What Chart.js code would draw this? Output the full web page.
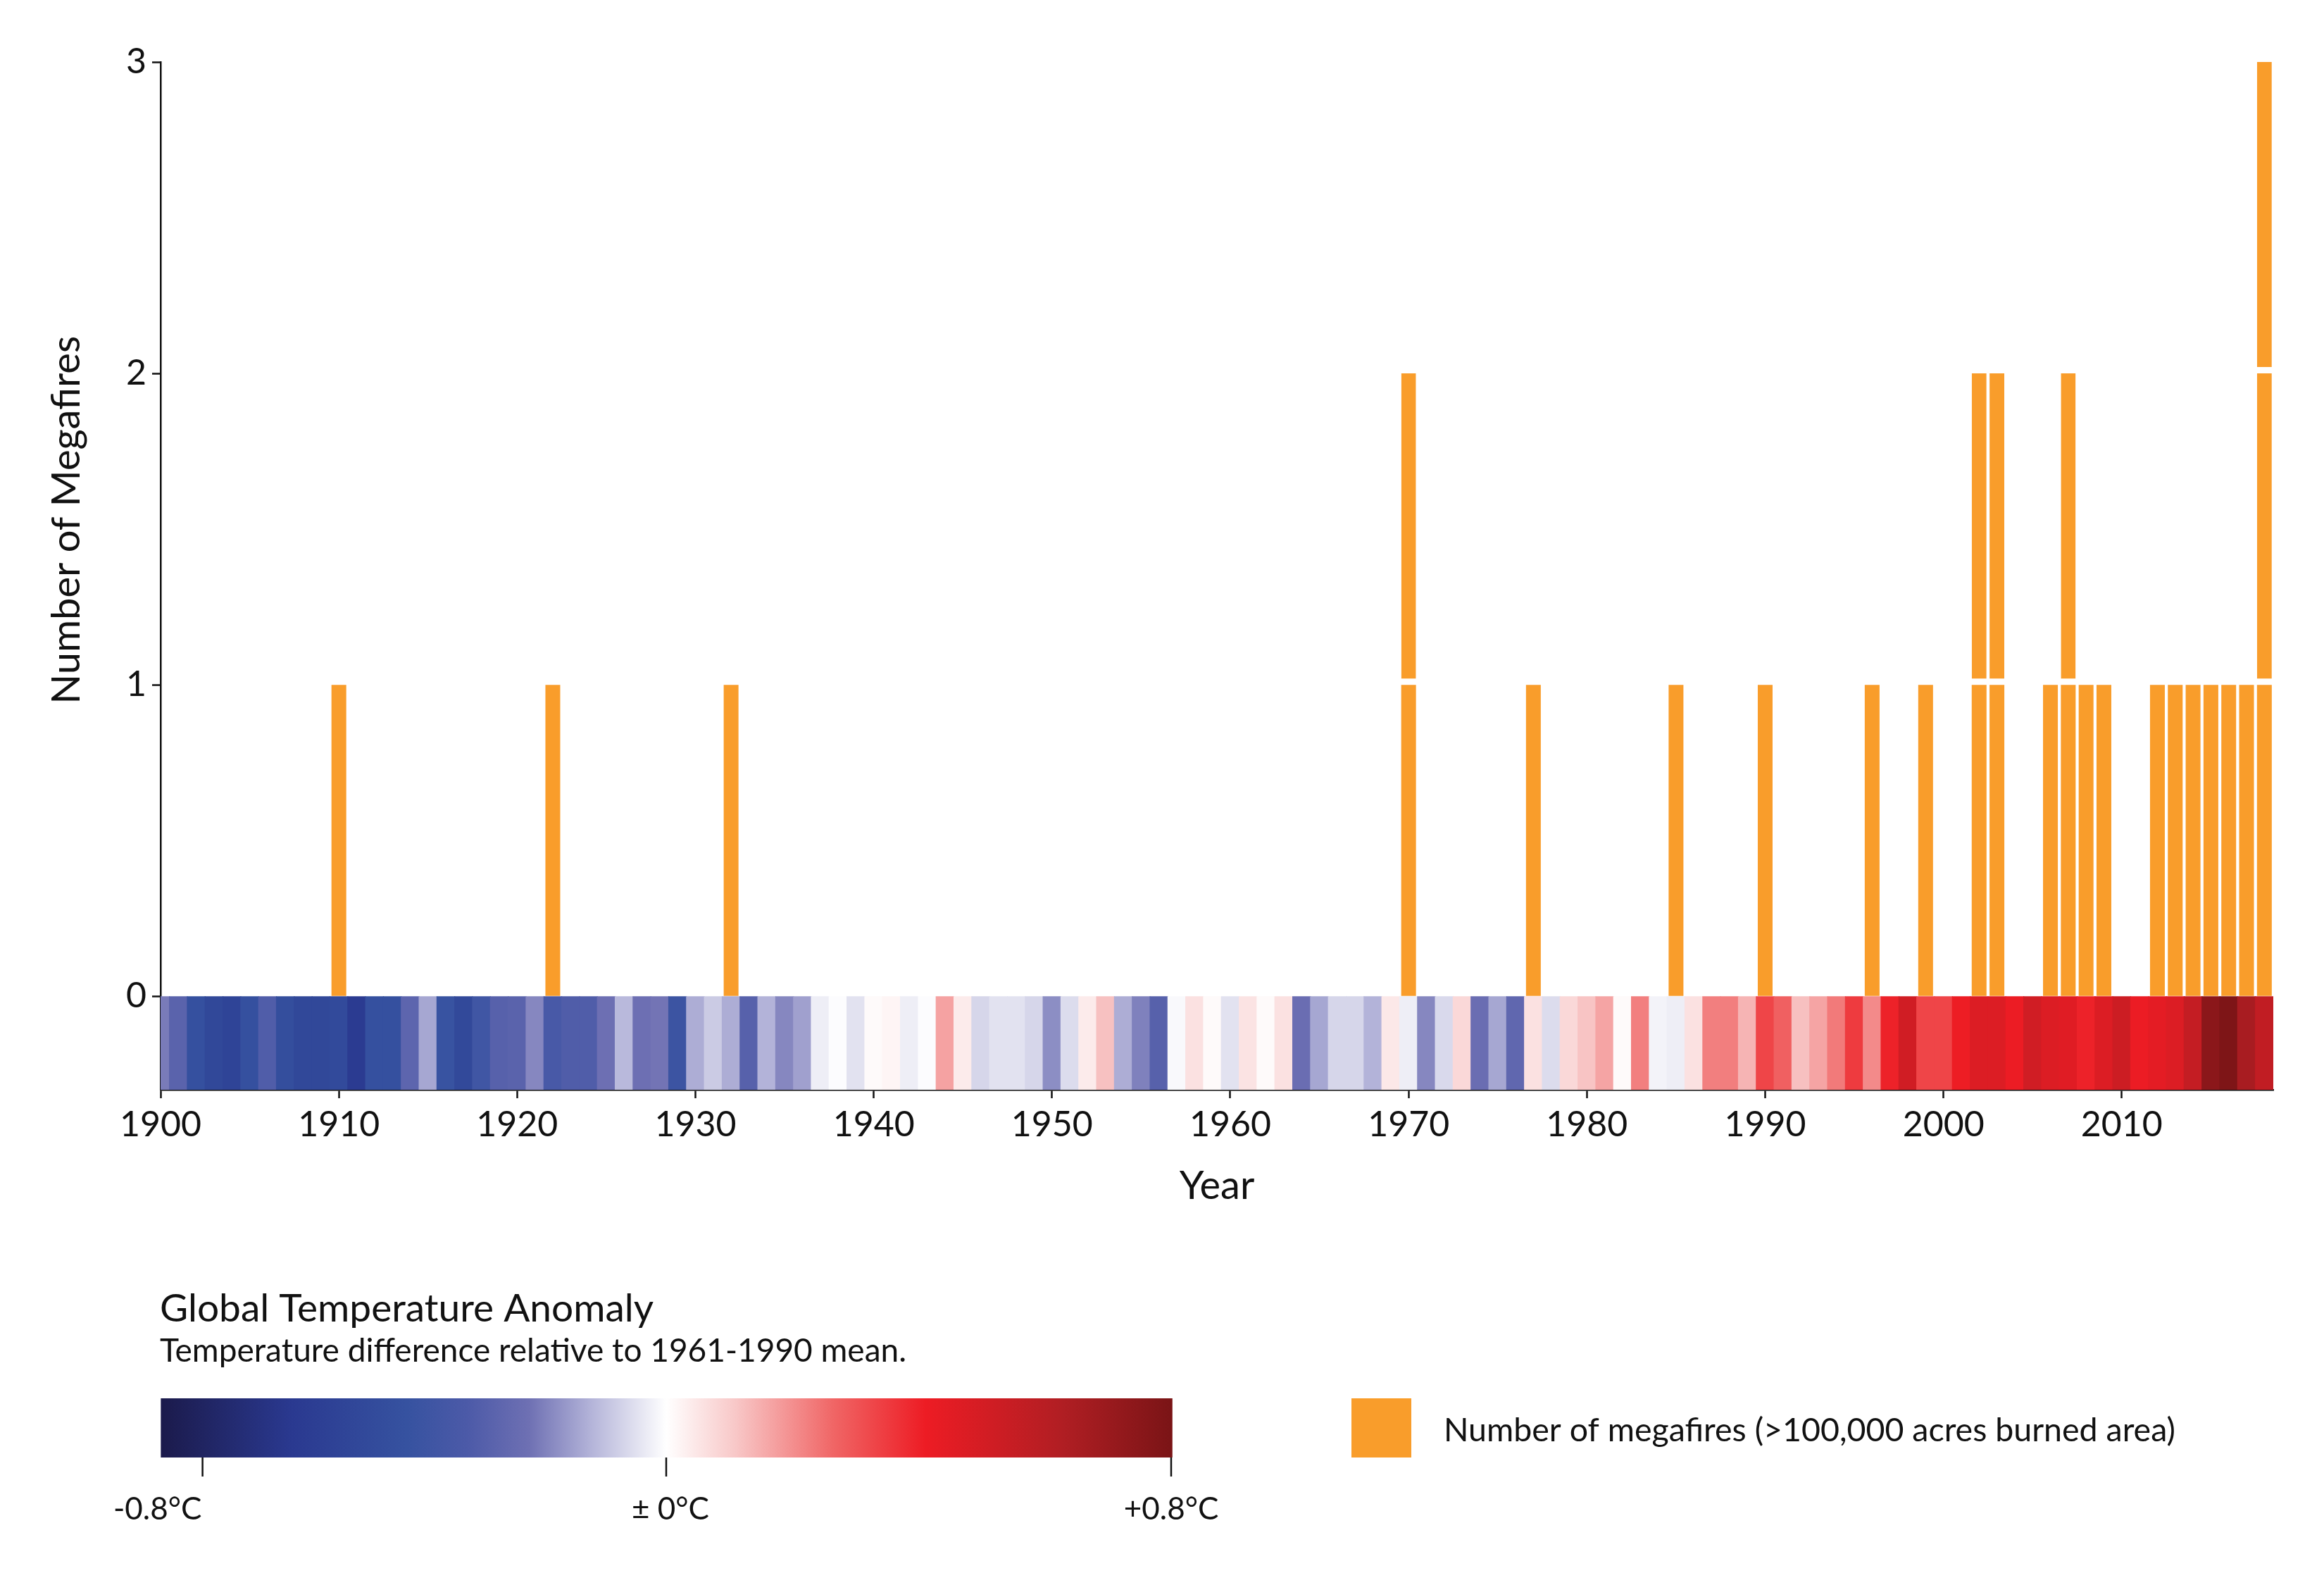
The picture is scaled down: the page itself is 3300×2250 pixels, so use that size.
<!DOCTYPE html>
<html>
<head>
<meta charset="utf-8">
<script src="https://cdn.jsdelivr.net/npm/chart.js@4.4.1/dist/chart.umd.min.js"></script>
<style>
  html, body { margin: 0; padding: 0; background: #ffffff; }
  #wrap { width: 3300px; height: 2250px; }
</style>
</head>
<body>
<div id="wrap"><canvas id="c" width="3300" height="2250"></canvas></div>
<script>
// ---------------- DATA ----------------
const startYear = 1900;
// Global temperature anomaly (°C, relative to 1961-1990), one value per year 1900..2018
const anomalies = [
  -0.22, -0.30, -0.46, -0.53, -0.56, -0.46, -0.33, -0.48, -0.53, -0.53, // 1900-1909
  -0.51, -0.63, -0.46, -0.46, -0.29, -0.15, -0.44, -0.52, -0.40, -0.31, // 1910-1919
  -0.30, -0.20, -0.36, -0.33, -0.33, -0.24, -0.12, -0.24, -0.23, -0.42, // 1920-1929
  -0.14, -0.09, -0.14, -0.31, -0.13, -0.20, -0.16, -0.03, -0.005, -0.05, // 1930-1939
   0.01,  0.02, -0.03, -0.005, 0.17,  0.04, -0.07, -0.05, -0.05, -0.07, // 1940-1949
  -0.19, -0.06,  0.04,  0.12, -0.14, -0.21, -0.31, -0.01,  0.06,  0.01, // 1950-1959
  -0.05,  0.055, 0.01,  0.06, -0.25, -0.15, -0.07, -0.07, -0.13,  0.045, // 1960-1969
  -0.03, -0.20, -0.065, 0.077, -0.25, -0.15, -0.28,  0.06, -0.06,  0.077, // 1970-1979
   0.115, 0.166, 0.01,  0.225, -0.02, -0.03,  0.06,  0.225, 0.226, 0.14, // 1980-1989
   0.33,  0.276, 0.122, 0.166, 0.233, 0.35,  0.208, 0.40,  0.515, 0.33, // 1990-1999
   0.33,  0.41,  0.47,  0.47,  0.415, 0.515, 0.47,  0.457, 0.40,  0.47, // 2000-2009
   0.529, 0.415, 0.443, 0.47,  0.557, 0.749, 0.788, 0.655, 0.57          // 2010-2018
];
// Megafires (>100,000 acres burned area)
const fireYears  = [1910, 1922, 1932, 1970, 1977, 1985, 1990, 1996, 1999, 2002, 2003,
                    2006, 2007, 2008, 2009, 2012, 2013, 2014, 2015, 2016, 2017, 2018];
const fireCounts = [1, 1, 1, 2, 1, 1, 1, 1, 1, 2, 2,
                    1, 2, 1, 1, 1, 1, 1, 1, 1, 1, 3];
const xTickValues = [1900, 1910, 1920, 1930, 1940, 1950, 1960, 1970, 1980, 1990, 2000, 2010];
const yTickValues = [0, 1, 2, 3];
const colorbarTicks = [-0.8, 0, 0.8];
const colorbarTickLabels = ['-0.8°C', '± 0°C', '+0.8°C'];

// ---------------- STYLE ----------------
const FONT = 'Lato, "Open Sans", "DejaVu Sans", sans-serif';
const ORANGE = '#F99D2B';
const STRIPE_BOTTOM = -0.3;
// colormap stops (value °C -> colour)
const cmapStops = [
  [-0.872, [27, 26, 75]],
  [-0.646, [42, 57, 144]],
  [-0.448, [54, 82, 160]],
  [-0.343, [76, 90, 168]],
  [-0.237, [110, 112, 179]],
  [-0.132, [178, 178, 216]],
  [0.0,    [255, 255, 255]],
  [0.109,  [248, 200, 200]],
  [0.266,  [240, 101, 101]],
  [0.411,  [237, 28, 36]],
  [0.629,  [176, 30, 35]],
  [0.802,  [122, 20, 22]]
];
function cmap(v) {
  if (v <= cmapStops[0][0]) return rgb(cmapStops[0][1]);
  for (let i = 1; i < cmapStops.length; i++) {
    if (v <= cmapStops[i][0]) {
      const [v0, c0] = cmapStops[i - 1], [v1, c1] = cmapStops[i];
      const t = (v - v0) / (v1 - v0);
      return rgb(c0.map((c, k) => c + (c1[k] - c) * t));
    }
  }
  return rgb(cmapStops[cmapStops.length - 1][1]);
}
function rgb(a) { return 'rgb(' + a.map(x => Math.round(x)).join(',') + ')'; }

// ---------------- DATASETS ----------------
const stripeData = anomalies.map((a, i) => ({ x: startYear + i, y: [STRIPE_BOTTOM, 0] }));
const stripeColors = anomalies.map(a => cmap(a));

const maxCount = Math.max(...fireCounts);
const fireDatasets = [];
for (let k = 1; k <= maxCount; k++) {
  const pts = [];
  fireYears.forEach((yr, i) => { if (fireCounts[i] >= k) pts.push({ x: yr, y: [k - 1, k] }); });
  fireDatasets.push({
    label: 'Megafire ' + k,
    data: pts,
    backgroundColor: ORANGE,
    borderColor: '#ffffff',
    borderWidth: k === 1 ? 0 : { top: 0, bottom: 9, left: 0, right: 0 },
    borderSkipped: false,
    grouped: false,
    barPercentage: 0.83,
    categoryPercentage: 1.0,
    inflateAmount: 0
  });
}

// ---------------- DECORATION PLUGIN ----------------
const decor = {
  id: 'decor',
  afterDraw(chart) {
    const ctx = chart.ctx;
    const ys = chart.scales.y;
    ctx.save();
    ctx.fillStyle = '#111';
    // y-axis title
    ctx.save();
    ctx.translate(95, ys.getPixelForValue(1.5) - 13);
    ctx.rotate(-Math.PI / 2);
    ctx.font = '56px ' + FONT;
    ctx.textAlign = 'center';
    ctx.textBaseline = 'middle';
    ctx.fillText('Number of Megafires', 0, 0);
    ctx.restore();
    // x-axis title
    ctx.font = '56px ' + FONT;
    ctx.textAlign = 'center';
    ctx.textBaseline = 'middle';
    ctx.fillText('Year', (chart.chartArea.left + chart.chartArea.right) / 2, 1684);

    // colour legend titles
    ctx.textAlign = 'left';
    ctx.textBaseline = 'alphabetic';
    ctx.font = '55px ' + FONT;
    ctx.fillText('Global Temperature Anomaly', 227, 1876);
    ctx.font = '46px ' + FONT;
    ctx.fillText('Temperature difference relative to 1961-1990 mean.', 227, 1933);

    // colour bar
    const cbTop = 1985, cbBot = 2069;
    const zeroX = 946, negX = 287.6, posX = 1663;
    const vx = v => v < 0 ? zeroX + v / 0.8 * (zeroX - negX) : zeroX + v / 0.8 * (posX - zeroX);
    const left = vx(cmapStops[0][0]), right = vx(cmapStops[cmapStops.length - 1][0]);
    const g = ctx.createLinearGradient(left, 0, right, 0);
    cmapStops.forEach(([v, c]) => g.addColorStop((vx(v) - left) / (right - left), rgb(c)));
    ctx.fillStyle = g;
    ctx.fillRect(left, cbTop, right - left, cbBot - cbTop);
    // ticks + labels
    ctx.strokeStyle = '#111';
    ctx.lineWidth = 2.5;
    ctx.fillStyle = '#111';
    ctx.font = '44px ' + FONT;
    ctx.textBaseline = 'middle';
    ctx.textAlign = 'center';
    const labelShift = [-64, 6, 0];
    colorbarTicks.forEach((t, i) => {
      const x = vx(t);
      ctx.beginPath();
      ctx.moveTo(x, cbBot);
      ctx.lineTo(x, cbBot + 27);
      ctx.stroke();
      ctx.fillText(colorbarTickLabels[i], x + labelShift[i], 2143);
    });

    // bar legend
    ctx.fillStyle = ORANGE;
    ctx.fillRect(1919, 1985, 85, 84);
    ctx.fillStyle = '#111';
    ctx.font = '46.5px ' + FONT;
    ctx.textAlign = 'left';
    ctx.textBaseline = 'middle';
    ctx.fillText('Number of megafires (>100,000 acres burned area)', 2050, 2031);
    ctx.restore();
  }
};

// ---------------- CHART ----------------
new Chart(document.getElementById('c'), {
  type: 'bar',
  data: {
    datasets: [
      {
        label: 'Temperature anomaly',
        data: stripeData,
        backgroundColor: stripeColors,
        borderWidth: 0,
        grouped: false,
        barPercentage: 1.0,
        categoryPercentage: 1.0,
        inflateAmount: 0.6
      },
      ...fireDatasets
    ]
  },
  options: {
    responsive: false,
    devicePixelRatio: 1,
    animation: false,
    layout: { padding: { left: 0, right: 72, top: 88, bottom: 483 } },
    plugins: { legend: { display: false }, tooltip: { enabled: false } },
    scales: {
      x: {
        type: 'linear',
        min: startYear,
        max: startYear + anomalies.length - 0.5,
        offset: false,
        grid: { offset: false, drawOnChartArea: false, drawTicks: true, tickLength: 12, tickWidth: 2.5, tickColor: '#111' },
        border: { display: true, color: '#111', width: 2.5 },
        ticks: {
          autoSkip: false, maxRotation: 0, color: '#111', padding: 8,
          font: { family: FONT, size: 50 },
          callback: v => String(v)
        },
        afterBuildTicks: s => { s.ticks = xTickValues.map(v => ({ value: v })); },
        afterFit: s => { s.height = 220; }
      },
      y: {
        type: 'linear',
        min: STRIPE_BOTTOM,
        max: Math.max(...yTickValues),
        grid: { drawOnChartArea: false, drawTicks: true, tickLength: 12, tickWidth: 2.5, tickColor: '#111' },
        border: { display: true, color: '#111', width: 2.5 },
        ticks: { color: '#111', padding: 8, font: { family: FONT, size: 50 }, callback: v => String(v) },
        afterBuildTicks: s => { s.ticks = yTickValues.map(v => ({ value: v })); },
        afterFit: s => { s.width = 228; }
      }
    }
  },
  plugins: [decor]
});
</script>
</body>
</html>
